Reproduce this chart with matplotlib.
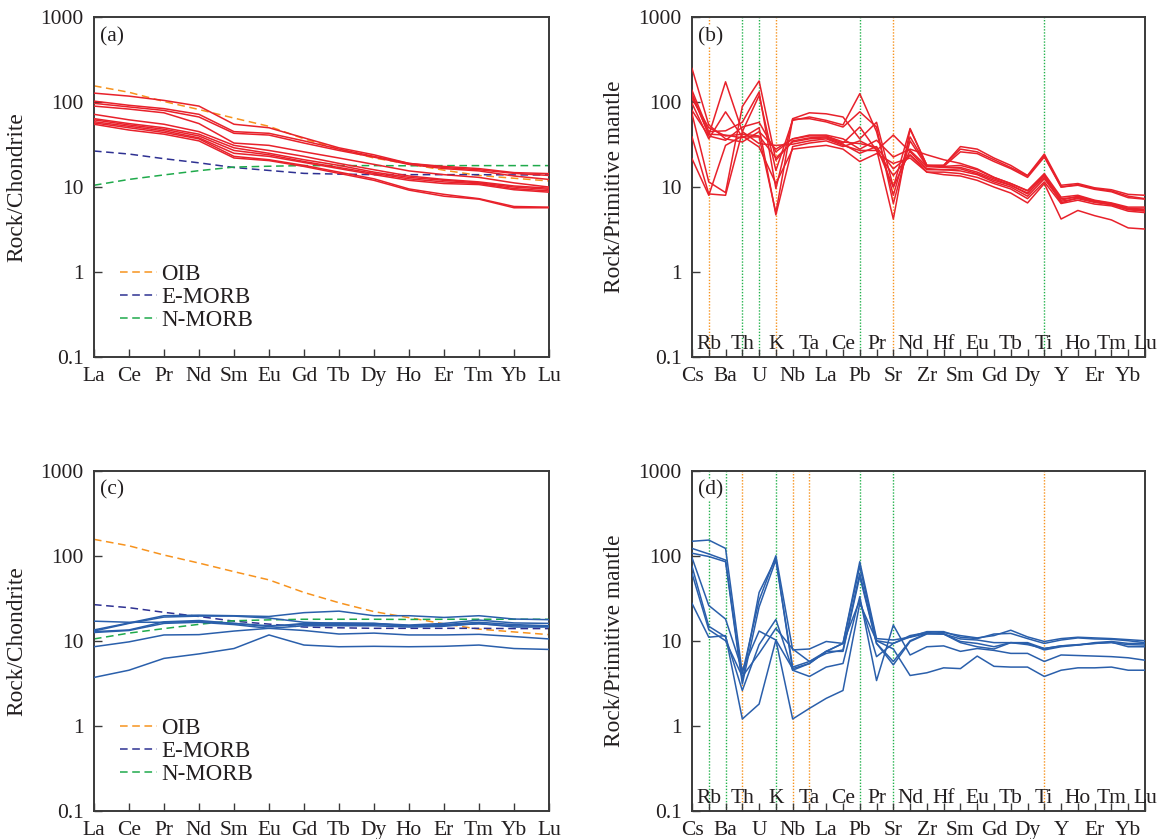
import matplotlib
matplotlib.use("Agg")
import matplotlib.pyplot as plt
import matplotlib.transforms as mtransforms

plt.rcParams['font.family'] = ['Liberation Serif', 'DejaVu Serif']

# element orders
ree = ["La", "Ce", "Pr", "Nd", "Sm", "Eu", "Gd", "Tb", "Dy", "Ho", "Er", "Tm", "Yb", "Lu"]
spider = ["Cs", "Rb", "Ba", "Th", "U", "K", "Nb", "Ta", "La", "Ce", "Pb", "Pr", "Sr", "Nd",
          "Zr", "Hf", "Sm", "Eu", "Gd", "Tb", "Dy", "Ti", "Y", "Ho", "Er", "Tm", "Yb", "Lu"]

# reference curves, chondrite normalised
oib = [156, 131, 102, 82, 65, 52, 37, 28, 22, 18.7, 15.8, 13.7, 12.7, 11.8]
emorb = [26.6, 24.5, 21.6, 19.3, 17.0, 15.7, 14.5, 14.2, 14.0, 14.0, 14.0, 14.0, 13.9, 13.9]
nmorb = [10.5, 12.3, 13.9, 15.6, 17.2, 17.6, 17.9, 17.9, 17.9, 17.8, 17.9, 17.9, 17.9, 17.9]

# (a) REE, red samples
ree_a = [
    [128, 118, 105, 90, 55, 50, 38, 29, 24, 19, 17.5, 16.5, 14.8, 14.4],
    [103, 92, 84, 72, 45, 43, 35, 28, 23, 19, 17, 16, 14.5, 13.7],
    [97, 88, 80, 67, 43, 41, 33, 27, 22.5, 18.5, 16.5, 15.5, 13.5, 12.3],
    [90, 83, 75, 56, 33, 31, 26, 22, 18.5, 15.5, 14, 13, 11.2, 10.0],
    [72, 62, 55, 45, 31, 27, 23, 19, 16, 13.5, 12.3, 11.5, 10.3, 9.7],
    [64, 56, 50, 42, 29, 25, 21, 18, 15, 13, 12, 11.2, 10, 9.4],
    [62, 54, 48, 40, 27, 24, 20, 17, 14.5, 12.5, 11.5, 11, 9.6, 9.0],
    [59, 52, 46, 38, 25, 23, 19.5, 16.5, 14, 12, 11, 10.7, 9.3, 8.7],
    [57, 50, 44, 37, 23, 21, 18, 15, 12.5, 9.5, 8.2, 7.3, 5.9, 5.8],
    [55, 47, 42, 35, 22, 20.5, 17.5, 14.5, 12, 9.2, 7.8, 7.2, 5.7, 5.7],
]

# (b) spider, red samples
spider_b = [
    [138, 45, 46, 58, 132, 9.6, 64, 75, 73, 67, 37, 58, 10, 49, 18, 18, 30, 28, 22, 18, 13.7, 24.5, 10.5, 11, 9.8, 9.3, 8.2, 8.0],
    [126, 41, 174, 45, 120, 15.7, 61, 67, 61, 54, 126, 45, 8, 39, 18, 18, 28, 26, 21, 17, 13.5, 23.5, 10, 10.7, 9.6, 9.0, 7.8, 7.3],
    [97, 37, 77, 39, 39, 5.0, 63, 64, 58.6, 51, 77, 51, 6.4, 35, 17.5, 17.5, 26, 24.8, 20, 16.5, 13, 22.6, 10, 10.5, 9.4, 8.8, 7.5, 7.2],
    [250, 54, 37, 34, 45, 28, 37, 41, 41, 37, 28, 35.6, 22.6, 28, 24, 21, 19, 16.4, 13, 11, 9.1, 14.4, 7.6, 8, 7, 6.5, 5.8, 5.8],
    [80, 40, 35.6, 51, 58, 26, 37, 40, 40, 34, 32.5, 29.6, 16.4, 24, 16, 16, 16.4, 14.4, 12, 10.5, 8.3, 13.7, 7.3, 7.6, 6.8, 6.3, 5.6, 5.4],
    [73, 11.5, 8.6, 89, 178, 20.7, 35, 38, 39, 33, 51, 27, 41, 26, 16.5, 16, 15.5, 14, 11.5, 10, 7.8, 12.5, 6.8, 7.3, 6.6, 6.2, 5.5, 5.3],
    [39, 8.3, 8.0, 45, 32.5, 31, 32, 35, 37, 31, 27, 27, 13.7, 23.7, 15, 15, 14.4, 13, 11, 9.5, 7.3, 11.5, 6.4, 7, 6.3, 6.0, 5.2, 5.0],
    [21.6, 8.0, 31, 40, 29.6, 11, 28, 29.6, 31, 28, 20, 24.8, 19, 22, 15, 14, 13.5, 12, 10, 8.5, 6.5, 11, 4.2, 5.3, 4.6, 4.1, 3.3, 3.2],
    [110, 50, 40, 42, 40, 22, 34, 37, 38, 32, 25, 30, 10, 27, 17.5, 17, 17, 15, 12.5, 10.5, 8.5, 13, 7, 7.8, 6.9, 6.4, 5.6, 5.5],
    [120, 42, 41, 38, 50, 4.7, 30, 33, 35, 30, 35, 28, 4.2, 48, 18, 17.5, 18, 16, 13, 11, 9, 14, 6.5, 7.5, 6.7, 6.2, 5.4, 5.2],
]

# (c) REE, blue samples
ree_c = [
    [3.7, 4.5, 6.2, 7.0, 8.1, 11.7, 8.9, 8.5, 8.6, 8.5, 8.6, 8.9, 8.1, 7.9],
    [8.5, 9.7, 11.7, 11.8, 13.0, 14.0, 13.2, 12.0, 12.3, 11.7, 11.7, 11.9, 11.2, 10.5],
    [17.0, 16.5, 16.5, 16.8, 16.0, 15.0, 15.5, 15.5, 15.5, 15.0, 15.2, 15.8, 15.0, 14.8],
    [13.4, 16.2, 19.7, 20.0, 19.7, 19.3, 21.4, 22.3, 19.7, 19.7, 18.8, 19.7, 18.0, 17.7],
    [12.8, 13.4, 16.7, 17.3, 16.0, 14.7, 16.0, 16.2, 16.0, 15.3, 16.0, 17.5, 16.2, 16.0],
    [13.0, 16.0, 19.0, 19.5, 19.5, 18.5, 16.5, 16.0, 16.0, 15.0, 15.5, 16.5, 15.5, 15.0],
    [12.5, 13.2, 16.0, 16.5, 15.5, 14.0, 15.0, 15.0, 15.0, 14.5, 14.8, 16.0, 14.5, 14.5],
]

# (d) spider, blue samples
spider_d = [
    [148, 153, 122, 4.1, 30, 100, 7.8, 8.0, 9.8, 9.3, 85, 10.6, 10.2, 11, 12.2, 12.5, 11.5, 10.8, 11.5, 13.3, 11.1, 9.8, 10.6, 11, 10.8, 10.6, 10.3, 10.0],
    [122, 105, 89, 3.4, 37, 93, 4.5, 5.4, 7.5, 9.3, 75, 10, 9.3, 11.1, 12.8, 12.8, 11, 10.6, 12, 12.2, 10.6, 9.3, 10.2, 10.8, 10.5, 10.4, 10, 9.5],
    [107, 98, 85, 3.1, 25, 89, 4.9, 5.7, 7.1, 7.8, 62, 9.3, 5.7, 10, 12.2, 12, 9.8, 9.3, 8.5, 9.5, 9.3, 7.8, 8.5, 8.9, 9.3, 9.6, 8.5, 8.5],
    [95, 26, 18, 4.5, 13, 10.2, 4.7, 5.4, 7.5, 7.5, 57, 9.3, 5.2, 9.8, 12, 12, 10.5, 10.2, 9.5, 9.5, 9.5, 8.1, 8.7, 8.9, 9.5, 9.8, 9.3, 9.3],
    [75, 14.8, 11.1, 2.6, 9, 17.8, 4.5, 3.8, 4.9, 5.4, 33, 3.4, 15.3, 6.8, 8.5, 8.7, 7.5, 8.1, 7.7, 7.1, 7.1, 5.7, 6.8, 6.7, 6.6, 6.5, 6.3, 5.9],
    [62, 13.5, 10, 3.8, 7.1, 14, 8, 5.7, 7.5, 9.3, 30, 6.5, 9.3, 11.5, 12.5, 12, 9.5, 8.5, 8, 9.5, 9, 8.1, 8.7, 9, 9.3, 9.5, 9, 8.9],
    [27.5, 11, 11.5, 1.2, 1.8, 10.2, 1.2, 1.6, 2.1, 2.6, 27.5, 10, 8, 3.9, 4.2, 4.8, 4.7, 6.6, 5.0, 4.9, 4.9, 3.8, 4.5, 4.8, 4.8, 4.9, 4.5, 4.5],
]

# dotted marker lines on the spider diagrams
b_orange = ["Rb", "K", "Sr"]
b_green = ["Th", "U", "Pb", "Ti"]
d_orange = ["Th", "Nb", "Ta", "Ti"]
d_green = ["Rb", "Ba", "K", "Pb", "Sr"]

RED = "#e8212b"
BLUE = "#2a5fab"
ORANGE = "#f7931e"
NAVY = "#2e3192"
GREEN = "#1faa4b"
DOT_OR = "#f7931e"
DOT_GR = "#22b24c"
SPINE = "#3a3a3a"
TXT = "#231f20"
TICK_FS = 15.5


def style_axes(ax, n, ylabel, tag):
    ax.set_yscale("log")
    ax.set_ylim(0.1, 1000)
    ax.set_xlim(0, n - 1)
    ax.set_yticks([0.1, 1, 10, 100, 1000])
    ax.set_yticklabels(["0.1", "1", "10", "100", "1000"])
    ax.minorticks_off()
    ax.tick_params(axis="both", direction="in", length=5.5, width=1.0, color=SPINE,
                   labelsize=TICK_FS, labelcolor=TXT)
    ax.tick_params(axis="y", pad=7.5)
    ax.tick_params(axis="x", pad=7.5)
    for s in ax.spines.values():
        s.set_color(SPINE)
        s.set_linewidth(1.4)
    ax.set_ylabel(ylabel, fontsize=16.8, color=TXT)
    ax.yaxis.set_label_coords(-0.147, 0.5)
    ax.text(0.013, 0.972, tag, transform=ax.transAxes, fontsize=15.5, color=TXT,
            va="top", ha="left", zorder=6,
            bbox=dict(facecolor="white", edgecolor="none", pad=0.5))


def ree_panel(ax, samples, color, tag):
    x = range(len(ree))
    ax.plot(x, oib, color=ORANGE, lw=1.1, dashes=(5, 3), label="OIB", zorder=2)
    ax.plot(x, emorb, color=NAVY, lw=1.1, dashes=(5, 3), label="E-MORB", zorder=2)
    ax.plot(x, nmorb, color=GREEN, lw=1.1, dashes=(5, 3), label="N-MORB", zorder=2)
    for s in samples:
        ax.plot(x, s, color=color, lw=1.1, zorder=3)
    style_axes(ax, len(ree), "Rock/Chondrite", tag)
    ax.set_xticks(list(x))
    ax.set_xticklabels(ree)
    leg = ax.legend(frameon=False, loc="upper left", bbox_to_anchor=(0.057, 0.274),
                    fontsize=16.5, handlelength=1.6, handletextpad=0.22,
                    labelspacing=0.1, borderpad=0, borderaxespad=0)
    for t in leg.get_texts():
        t.set_color(TXT)


def spider_panel(ax, samples, color, orange, green, tag):
    x = range(len(spider))
    for el in orange:
        ax.axvline(spider.index(el), color=DOT_OR, lw=1.0, ls=(0, (1, 1.2)), zorder=1)
    for el in green:
        ax.axvline(spider.index(el), color=DOT_GR, lw=1.0, ls=(0, (1, 1.2)), zorder=1)
    for s in samples:
        ax.plot(x, s, color=color, lw=1.1, zorder=3)
    style_axes(ax, len(spider), "Rock/Primitive mantle", tag)
    ax.set_xticks(list(x))
    ax.set_xticklabels([el if i % 2 == 0 else "" for i, el in enumerate(spider)])
    trans = mtransforms.blended_transform_factory(ax.transData, ax.transAxes)
    for i, el in enumerate(spider):
        if i % 2 == 1:
            ax.text(i, 0.024, el, transform=trans, ha="center", va="baseline",
                    fontsize=TICK_FS, color=TXT, zorder=5, clip_on=False)


fig = plt.figure(figsize=(11.57, 8.39), dpi=100)
ax_a = fig.add_axes([0.0812, 0.5748, 0.3933, 0.4045])
ax_b = fig.add_axes([0.5981, 0.5748, 0.3915, 0.4045])
ax_c = fig.add_axes([0.0812, 0.0337, 0.3933, 0.4052])
ax_d = fig.add_axes([0.5981, 0.0337, 0.3915, 0.4052])

ree_panel(ax_a, ree_a, RED, "(a)")
spider_panel(ax_b, spider_b, RED, b_orange, b_green, "(b)")
ree_panel(ax_c, ree_c, BLUE, "(c)")
spider_panel(ax_d, spider_d, BLUE, d_orange, d_green, "(d)")

fig.savefig("out.png", dpi=100, facecolor="white")
